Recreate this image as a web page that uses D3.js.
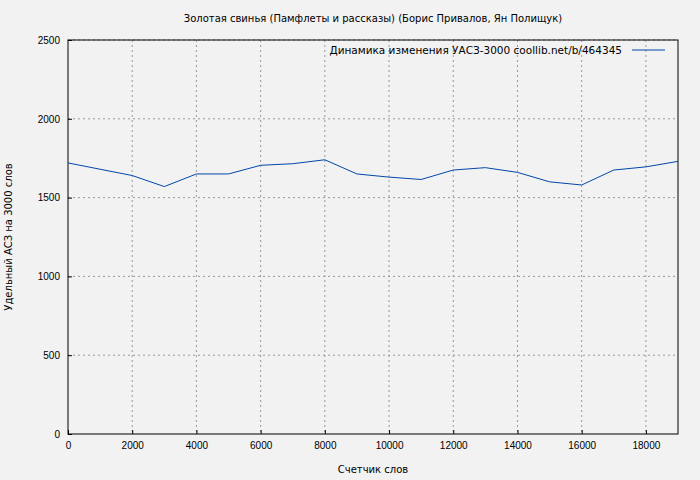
<!DOCTYPE html>
<html><head><meta charset="utf-8">
<script src="https://cdn.jsdelivr.net/npm/d3@7"></script>
<style>body{margin:0;background:#f2f2f2}svg{font-family:"DejaVu Sans",sans-serif}</style>
</head><body><svg id="c" width="700" height="480"></svg>
<script>
const words = [0,1000,2000,3000,4000,5000,6000,7000,8000,9000,10000,11000,12000,13000,14000,15000,16000,17000,18000,19000];
const uas = [1720,1680,1640,1570,1650,1650,1705,1715,1740,1650,1630,1615,1675,1690,1660,1600,1580,1675,1695,1730];
const xTicks = [0,2000,4000,6000,8000,10000,12000,14000,16000,18000];
const yTicks = [0,500,1000,1500,2000,2500];

const svg = d3.select("#c");
svg.append("rect").attr("width",700).attr("height",480).attr("fill","#f2f2f2");
const m = {l:68, r:678, t:40, b:434};
const x = d3.scaleLinear().domain([0,19000]).range([m.l,m.r]);
const y = d3.scaleLinear().domain([0,2500]).range([m.b,m.t]);

const g = svg.append("g");
xTicks.slice(1).forEach(t => g.append("line").attr("x1",x(t)).attr("x2",x(t)).attr("y1",m.t).attr("y2",m.b)
  .attr("stroke","#999").attr("stroke-dasharray","2,3"));
yTicks.slice(1).forEach(t => g.append("line").attr("x1",m.l).attr("x2",m.r).attr("y1",y(t)).attr("y2",y(t))
  .attr("stroke","#999").attr("stroke-dasharray","2,3"));

svg.append("g").attr("transform",`translate(0,${m.b})`)
  .call(d3.axisBottom(x).tickValues(xTicks).tickSize(-4).tickPadding(8).tickFormat(d3.format("d")))
  .call(a=>a.select(".domain").remove()).selectAll("text").attr("font-size",10).attr("fill","#000");
svg.append("g").attr("transform",`translate(${m.l},0)`)
  .call(d3.axisLeft(y).tickValues(yTicks).tickSize(-4).tickPadding(8).tickFormat(d3.format("d")))
  .call(a=>a.select(".domain").remove()).selectAll("text").attr("font-size",10).attr("fill","#000");
svg.append("rect").attr("x",m.l).attr("y",m.t).attr("width",m.r-m.l).attr("height",m.b-m.t)
  .attr("fill","none").attr("stroke","#000");

svg.append("path").datum(words.map((w,i)=>[w,uas[i]]))
  .attr("d",d3.line().x(d=>x(d[0])).y(d=>y(d[1])))
  .attr("fill","none").attr("stroke","#0047ab").attr("stroke-width",1);

svg.append("text").attr("x",373).attr("y",22).attr("text-anchor","middle").attr("font-size",10)
  .text("Золотая свинья (Памфлеты и рассказы) (Борис Привалов, Ян Полищук)");
svg.append("text").attr("x",373).attr("y",473).attr("text-anchor","middle").attr("font-size",10).text("Счетчик слов");
svg.append("text").attr("transform","translate(12,237) rotate(-90)").attr("text-anchor","middle").attr("font-size",10)
  .text("Удельный АСЗ на 3000 слов");
svg.append("text").attr("x",622).attr("y",54).attr("text-anchor","end").attr("font-size",10.5)
  .text("Динамика изменения УАСЗ-3000  coollib.net/b/464345");
svg.append("line").attr("x1",632).attr("x2",665).attr("y1",50).attr("y2",50).attr("stroke","#0047ab");
</script></body></html>
